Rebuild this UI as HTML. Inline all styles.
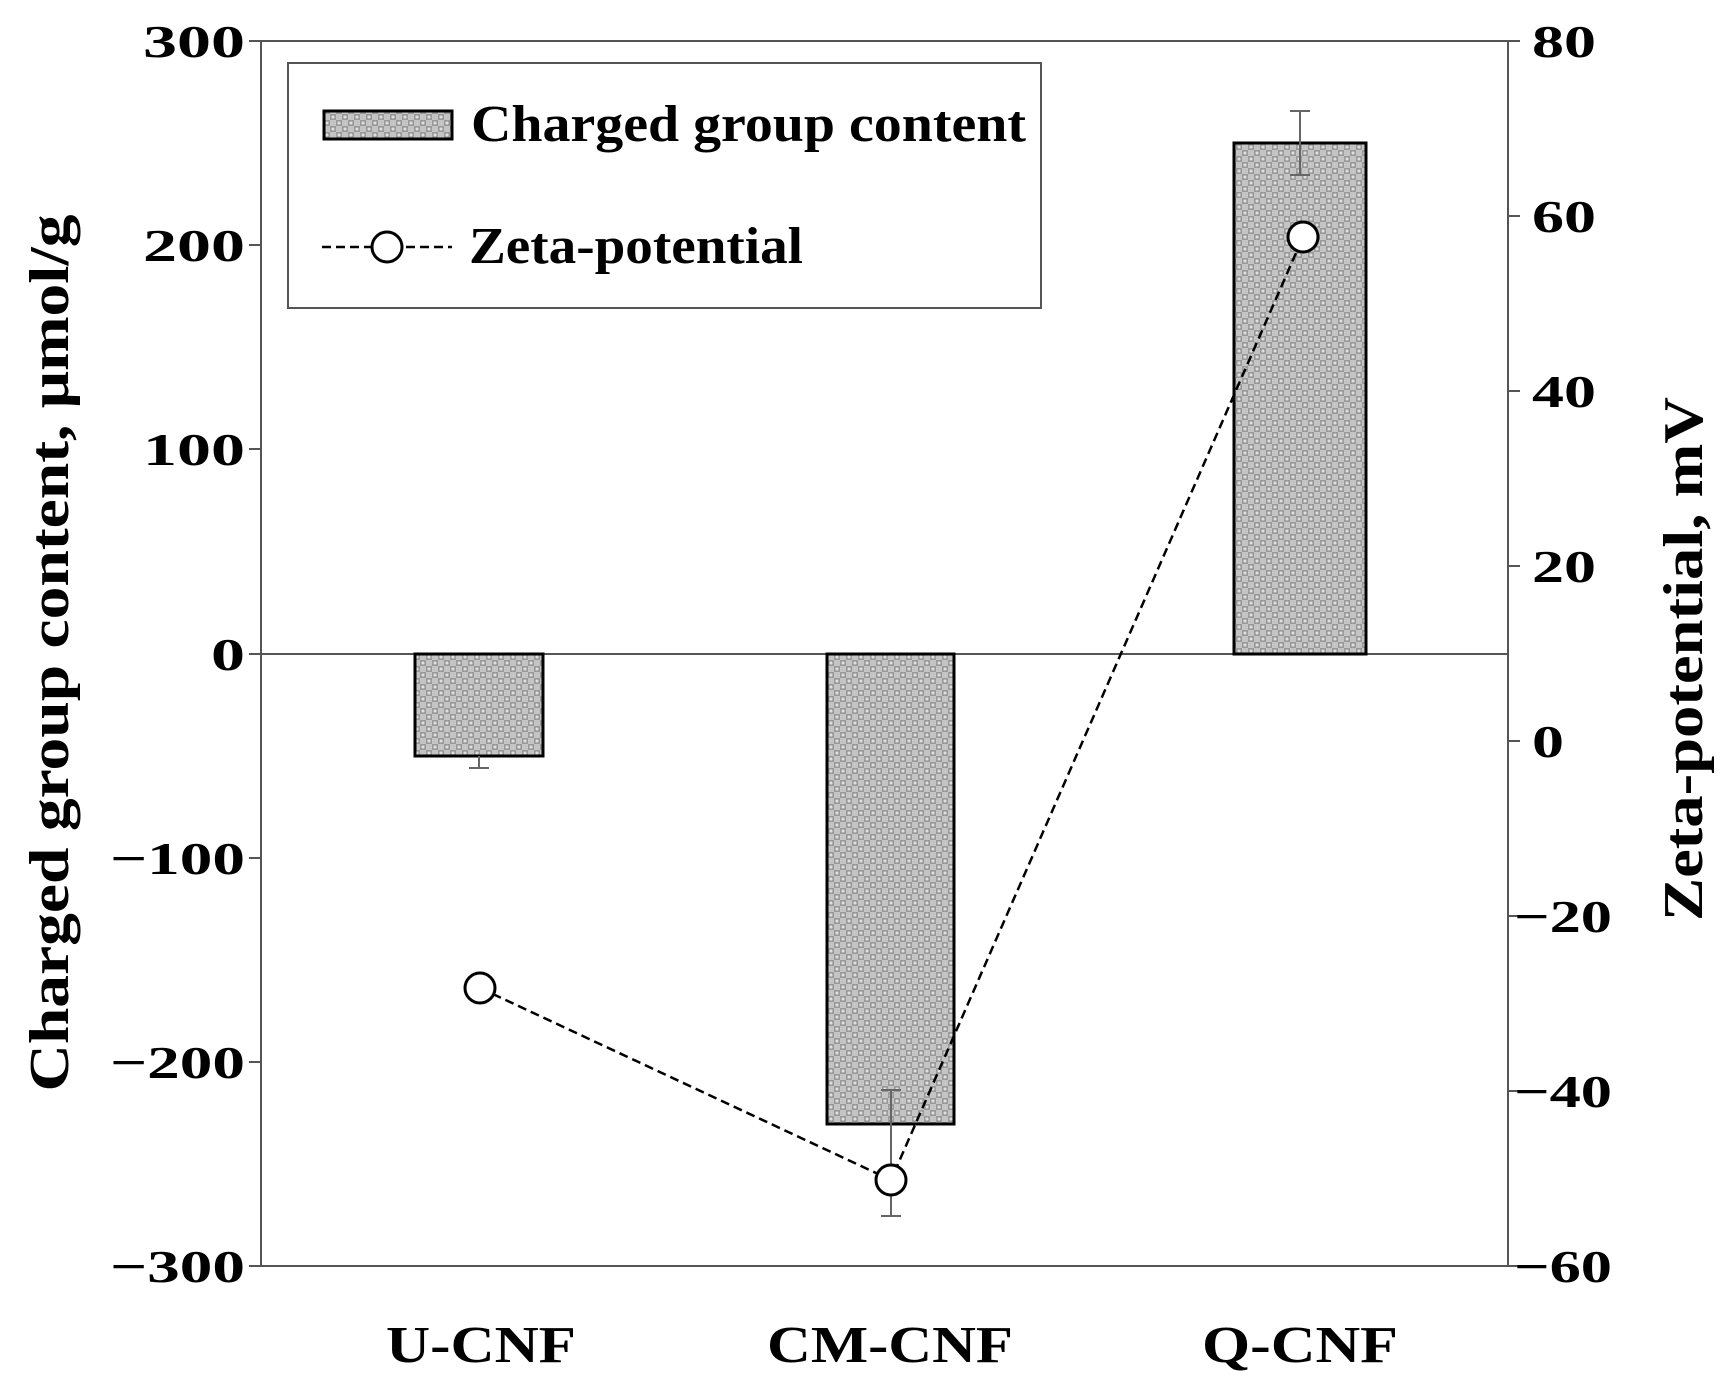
<!DOCTYPE html>
<html><head><style>body{margin:0;background:#fff}svg{display:block}</style></head>
<body>
<svg width="1725" height="1389" viewBox="0 0 1725 1389" xmlns="http://www.w3.org/2000/svg" font-family="Liberation Serif, serif" font-weight="bold">
<defs>
<pattern id="p" width="12" height="12" patternUnits="userSpaceOnUse">
<rect width="12" height="12" fill="#c4c4c4"/>
<rect x="0" y="0" width="6" height="6" fill="#9a9a9a"/>
<rect x="6" y="6" width="6" height="6" fill="#9a9a9a"/>
<circle cx="3" cy="3" r="1.5" fill="#e0e0e0"/>
<circle cx="9" cy="9" r="1.5" fill="#e0e0e0"/>
</pattern>
</defs>
<g stroke="#555" stroke-width="2" fill="none">
<rect x="261" y="41" width="1247" height="1225"/>
<line x1="261" y1="654" x2="1508" y2="654"/>
<line x1="249" y1="41" x2="261" y2="41"/><line x1="249" y1="245" x2="261" y2="245"/><line x1="249" y1="449" x2="261" y2="449"/><line x1="249" y1="654" x2="261" y2="654"/><line x1="249" y1="858" x2="261" y2="858"/><line x1="249" y1="1062" x2="261" y2="1062"/><line x1="249" y1="1266" x2="261" y2="1266"/>
<line x1="1508" y1="41" x2="1520" y2="41"/><line x1="1508" y1="216" x2="1520" y2="216"/><line x1="1508" y1="391" x2="1520" y2="391"/><line x1="1508" y1="566" x2="1520" y2="566"/><line x1="1508" y1="741" x2="1520" y2="741"/><line x1="1508" y1="916" x2="1520" y2="916"/><line x1="1508" y1="1091" x2="1520" y2="1091"/><line x1="1508" y1="1266" x2="1520" y2="1266"/>
</g>
<g stroke="#000" stroke-width="3" fill="url(#p)">
<rect x="415" y="654" width="128" height="102"/>
<rect x="827" y="654" width="127" height="470"/>
<rect x="1234" y="143" width="132" height="511"/>
</g>
<g stroke="#666" stroke-width="2">
<line x1="479" y1="756" x2="479" y2="768"/><line x1="469" y1="768" x2="489" y2="768"/>
<line x1="891" y1="1090" x2="891" y2="1216"/><line x1="881" y1="1216" x2="901" y2="1216"/><line x1="881" y1="1090" x2="901" y2="1090"/>
<line x1="1300" y1="111" x2="1300" y2="175"/><line x1="1290" y1="111" x2="1310" y2="111"/><line x1="1290" y1="175" x2="1310" y2="175"/>
</g>
<polyline points="480,988 891,1180 1303,237" fill="none" stroke="#000" stroke-width="2.5" stroke-dasharray="9,5"/>
<g fill="#fff" stroke="#000" stroke-width="3">
<circle cx="480" cy="988" r="15"/><circle cx="891" cy="1180" r="15"/><circle cx="1303" cy="237" r="15"/>
</g>
<rect x="288" y="63" width="753" height="245" fill="#fff" stroke="#555" stroke-width="2"/>
<rect x="324" y="111" width="128" height="28" fill="url(#p)" stroke="#000" stroke-width="3"/>
<text x="471" y="141" font-size="52" textLength="555" lengthAdjust="spacingAndGlyphs">Charged group content</text>
<line x1="322" y1="247" x2="452" y2="247" stroke="#000" stroke-width="2.5" stroke-dasharray="9,5"/>
<circle cx="387" cy="247" r="15" fill="#fff" stroke="#000" stroke-width="3"/>
<text x="469" y="263" font-size="52" textLength="334" lengthAdjust="spacingAndGlyphs">Zeta-potential</text>
<g font-size="46">
<text x="143" y="57" textLength="102" lengthAdjust="spacingAndGlyphs">300</text>
<text x="143" y="261" textLength="102" lengthAdjust="spacingAndGlyphs">200</text>
<text x="143" y="465" textLength="102" lengthAdjust="spacingAndGlyphs">100</text>
<text x="211" y="670" textLength="34" lengthAdjust="spacingAndGlyphs">0</text>
<text x="110" y="874" textLength="135" lengthAdjust="spacingAndGlyphs">−100</text>
<text x="110" y="1078" textLength="135" lengthAdjust="spacingAndGlyphs">−200</text>
<text x="110" y="1282" textLength="135" lengthAdjust="spacingAndGlyphs">−300</text>
<text x="1532" y="57" textLength="64" lengthAdjust="spacingAndGlyphs">80</text>
<text x="1532" y="232" textLength="64" lengthAdjust="spacingAndGlyphs">60</text>
<text x="1532" y="407" textLength="64" lengthAdjust="spacingAndGlyphs">40</text>
<text x="1532" y="582" textLength="64" lengthAdjust="spacingAndGlyphs">20</text>
<text x="1532" y="757" textLength="32" lengthAdjust="spacingAndGlyphs">0</text>
<text x="1514" y="932" textLength="98" lengthAdjust="spacingAndGlyphs">−20</text>
<text x="1514" y="1107" textLength="98" lengthAdjust="spacingAndGlyphs">−40</text>
<text x="1514" y="1282" textLength="98" lengthAdjust="spacingAndGlyphs">−60</text>
</g>
<g font-size="52">
<text x="386" y="1362" textLength="190" lengthAdjust="spacingAndGlyphs">U-CNF</text>
<text x="767" y="1362" textLength="246" lengthAdjust="spacingAndGlyphs">CM-CNF</text>
<text x="1202" y="1362" textLength="196" lengthAdjust="spacingAndGlyphs">Q-CNF</text>
</g>
<text transform="translate(68,653) rotate(-90)" font-size="56" text-anchor="middle" textLength="877" lengthAdjust="spacingAndGlyphs">Charged group content, μmol/g</text>
<text transform="translate(1702,659) rotate(-90)" font-size="56" text-anchor="middle" textLength="524" lengthAdjust="spacingAndGlyphs">Zeta-potential, mV</text>
</svg>
</body></html>
